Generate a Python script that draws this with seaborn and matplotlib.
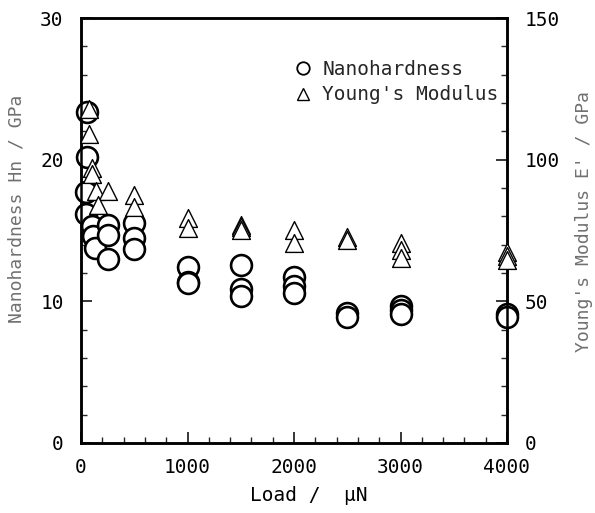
import numpy as np
import pandas as pd
import matplotlib
matplotlib.use("Agg")
import matplotlib.pyplot as plt
import seaborn as sns
from matplotlib.lines import Line2D
from matplotlib.ticker import MultipleLocator

# ---- data ----
hn_load = [60, 60, 50, 50, 100, 110, 130, 250, 250, 250, 500, 500, 500,
           1000, 1000, 1000, 1500, 1500, 1500, 2000, 2000, 2000,
           2500, 2500, 3000, 3000, 3000, 4000, 4000]
hn_value = [23.4, 20.2, 17.7, 16.2, 15.3, 14.6, 13.8, 15.4, 14.7, 13.0, 15.5, 14.5, 13.7,
            12.4, 11.4, 11.3, 12.6, 10.9, 10.4, 11.7, 11.1, 10.6,
            9.2, 8.9, 9.7, 9.4, 9.1, 9.1, 8.9]

ym_load = [75, 75, 100, 100, 140, 250, 160, 500, 500,
           1000, 1000, 1500, 1500, 1500, 2000, 2000,
           2500, 2500, 3000, 3000, 3000, 4000, 4000, 4000]
ym_value = [118, 109, 97, 95, 89, 89, 84, 87.5, 83.4,
            79.4, 75.9, 77.0, 76.2, 75.3, 75.2, 70.5,
            72.8, 71.7, 70.5, 68.1, 65.2, 67.5, 66.0, 64.6]

x_ticks = [0, 1000, 2000, 3000, 4000]
hn_ticks = [0, 10, 20, 30]
ym_ticks = [0, 50, 100, 150]

legend_labels = ["Nanohardness", "Young's Modulus"]

sns.set_theme(style="white")
plt.rcParams["font.family"] = ["DejaVu Sans Mono", "DejaVu Sans"]

fig = plt.figure(figsize=(5.95, 5.13), dpi=100)
ax = fig.add_axes([81 / 595, 70 / 513, 426 / 595, 425 / 513])
ax2 = ax.twinx()

hn_df = pd.DataFrame({"load": hn_load, "hn": hn_value})
ym_df = pd.DataFrame({"load": ym_load, "ym": ym_value})

sns.scatterplot(data=hn_df, x="load", y="hn", ax=ax, marker="o", s=225,
                color="white", edgecolor="black", linewidth=1.9, zorder=3,
                clip_on=False, legend=False)
sns.scatterplot(data=ym_df, x="load", y="ym", ax=ax2, marker="^", s=165,
                color="white", edgecolor="black", linewidth=1.0, zorder=3,
                clip_on=False, legend=False)

ax.set_xlim(0, 4000)
ax.set_ylim(0, 30)
ax2.set_ylim(0, 150)
ax.set_xticks(x_ticks)
ax.set_yticks(hn_ticks)
ax2.set_yticks(ym_ticks)
ax.xaxis.set_minor_locator(MultipleLocator(200))
ax.yaxis.set_minor_locator(MultipleLocator(2))
ax2.yaxis.set_minor_locator(MultipleLocator(10))

for a in (ax, ax2):
    for sp in a.spines.values():
        sp.set_linewidth(1.8)
        sp.set_color("black")
        sp.set_visible(True)

ax.tick_params(axis="both", which="major", direction="in", length=8, width=1.1,
               labelsize=14, colors="black", bottom=True, left=True,
               top=False, right=False)
ax.tick_params(axis="x", which="major", pad=11)
ax.tick_params(axis="y", which="major", pad=12.5)
ax.tick_params(axis="both", which="minor", direction="in", length=4.2, width=1.0,
               bottom=True, left=True, top=False, right=False)
ax2.tick_params(axis="y", which="major", direction="in", length=8, width=1.1,
                labelsize=14, pad=12.5, colors="black", right=True)
ax2.tick_params(axis="y", which="minor", direction="in", length=4.2, width=1.0,
                right=True)

ax.set_xlabel("Load /  μN", fontsize=14, color="black")
ax.xaxis.set_label_coords(0.535, -0.102)
ax.set_ylabel("Nanohardness Hn / GPa", fontsize=13, color="#707070")
ax.yaxis.set_label_coords(-0.131, 0.55)
ax2.set_ylabel("Young's Modulus E' / GPa", fontsize=13, color="#707070", rotation=90)
ax2.yaxis.set_label_coords(1.16, 0.52)

handles = [
    Line2D([], [], marker="o", linestyle="none", markersize=9,
           markerfacecolor="white", markeredgecolor="black", markeredgewidth=1.3),
    Line2D([], [], marker="^", linestyle="none", markersize=9,
           markerfacecolor="white", markeredgecolor="black", markeredgewidth=1.0),
]
fig.legend(handles, legend_labels, loc="center left",
           bbox_to_anchor=(293 / 595, (513 - 82) / 513), frameon=False,
           fontsize=14, handlelength=1.0, handletextpad=0.5, labelspacing=0.35,
           borderpad=0, borderaxespad=0)

fig.savefig("out.png", dpi=100, facecolor="white")
